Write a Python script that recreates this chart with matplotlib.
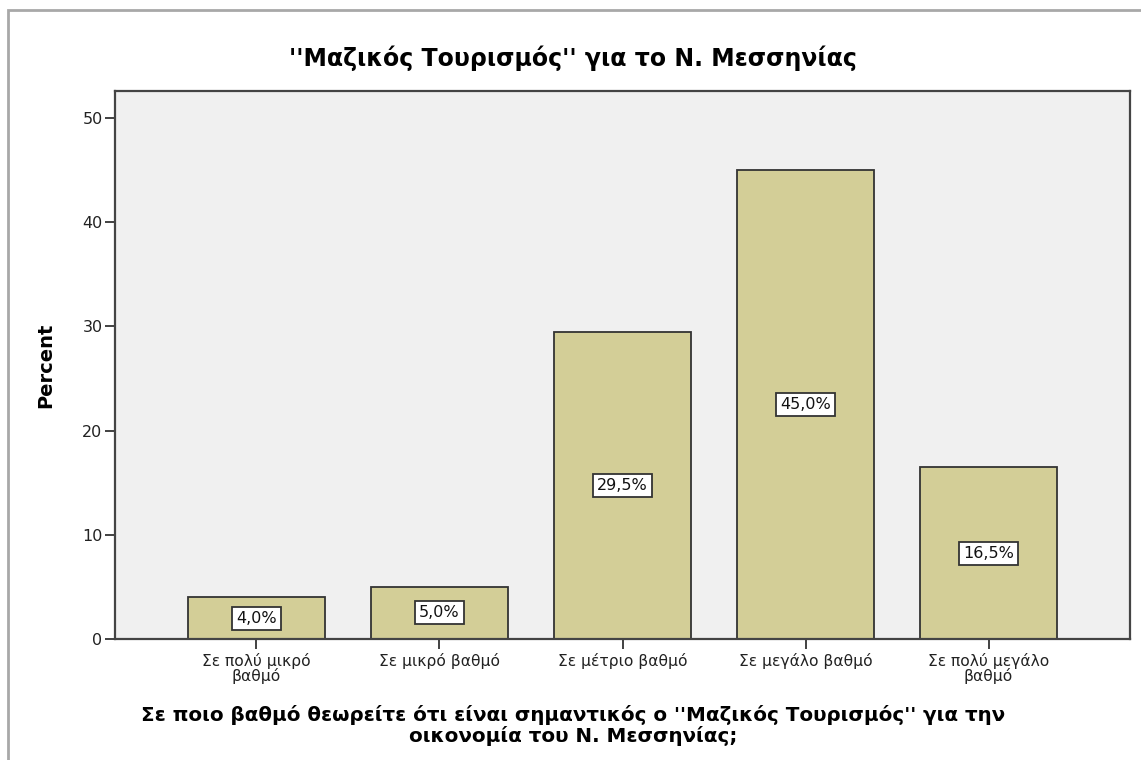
import matplotlib.pyplot as plt
from matplotlib.patches import Rectangle

categories = ['Σε πολύ μικρό\nβαθμό', 'Σε μικρό βαθμό', 'Σε μέτριο βαθμό',
              'Σε μεγάλο βαθμό', 'Σε πολύ μεγάλο\nβαθμό']
percent = [4.0, 5.0, 29.5, 45.0, 16.5]
yticks = [0, 10, 20, 30, 40, 50]

plt.rcParams['font.family'] = ['DejaVu Sans']

W, H = 1141, 760
fig = plt.figure(figsize=(W / 100, H / 100), dpi=100)

# outer frame (grey line top and left, runs off the right/bottom edges)
fig.add_artist(Rectangle((8 / W, -0.05), 1.1, 1 - 10 / H + 0.05, transform=fig.transFigure,
                         fill=False, edgecolor='#a8a8a8', linewidth=2))

ax = fig.add_axes([115 / W, 1 - 639 / H, (1130 - 115) / W, (639 - 91) / H])
ax.set_facecolor('#f0f0f0')

x = range(len(categories))
bars = ax.bar(x, percent, width=0.75, color='#d3ce97', edgecolor='#333333', linewidth=1.3)

for i, v in zip(x, percent):
    ax.text(i, v / 2, f'{v:.1f}%'.replace('.', ','), ha='center', va='center', fontsize=11.5,
            color='#111111',
            bbox=dict(boxstyle='square,pad=0.25', facecolor='white', edgecolor='#333333', linewidth=1.3))

ax.set_xlim(-0.773, 4.773)
ax.set_ylim(0, 52.6)
ax.set_yticks(yticks)
ax.set_xticks(list(x))
ax.set_xticklabels(categories, fontsize=11.2, linespacing=0.95, color='#222222')
ax.tick_params(axis='y', labelsize=11.5, length=7, width=1.3, color='#333333', pad=2,
               labelcolor='#222222')
ax.tick_params(axis='x', length=7, width=1.3, color='#333333', pad=3)
for s in ax.spines.values():
    s.set_color('#444444')
    s.set_linewidth(1.6)

ax.set_ylabel('Percent', fontsize=14, fontweight='bold', labelpad=19)
fig.text(573 / W, 1 - 705 / H,
         'Σε ποιο βαθμό θεωρείτε ότι είναι σημαντικός ο \'\'Μαζικός Τουρισμός\'\' για την\n'
         'οικονομία του Ν. Μεσσηνίας;', ha='center', va='top', fontsize=14.3,
         fontweight='bold', linespacing=1.05)
fig.text(573 / W, 1 - 58 / H, '\'\'Μαζικός Τουρισμός\'\' για το Ν. Μεσσηνίας',
         ha='center', va='center', fontsize=17, fontweight='bold')

fig.savefig('out.png', dpi=100)
